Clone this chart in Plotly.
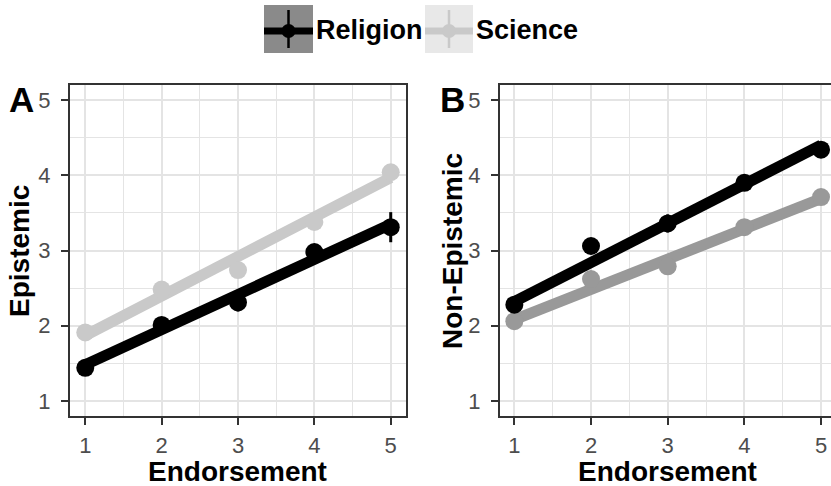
import plotly.graph_objects as go

endorse = [1, 2, 3, 4, 5]
a_religion = [1.44, 2.01, 2.31, 2.98, 3.31]
a_religion_err = [0.05, 0.08, 0.12, 0.08, 0.2]
a_science = [1.91, 2.48, 2.74, 3.38, 4.04]
a_science_err = [0.08, 0.1, 0.06, 0.05, 0.05]
b_religion = [2.28, 3.06, 3.36, 3.90, 4.34]
b_religion_err = [0.05, 0.1, 0.12, 0.06, 0.05]
b_science = [2.06, 2.62, 2.79, 3.31, 3.71]
b_science_err = [0.04, 0.05, 0.06, 0.05, 0.04]
# fitted regression lines (values at Endorsement = 1 and 5)
fit_x = [1, 5]
a_religion_fit = [1.48, 3.35]
a_science_fit = [1.87, 3.97]
b_religion_fit = [2.32, 4.40]
b_science_fit = [2.08, 3.69]
y_ticks = [1, 2, 3, 4, 5]

W, H = 831, 486
def px(x):
    return x / W
def py(y):
    return 1 - y / H

FONT = "Liberation Sans, Arial, sans-serif"
BLACK = "#000000"
LIGHT = "#c9c9c9"
MID = "#999999"

fig = go.Figure()

def add_series(y, err, fit, color, xa, ya):
    fig.add_trace(go.Scatter(x=fit_x, y=fit, mode="lines", line=dict(color=color, width=11),
                             xaxis=xa, yaxis=ya, showlegend=False, hoverinfo="skip"))
    fig.add_trace(go.Scatter(x=endorse, y=y, mode="markers",
                             marker=dict(color=color, size=18),
                             error_y=dict(type="data", array=err, color=color,
                                          thickness=3, width=0),
                             xaxis=xa, yaxis=ya, showlegend=False))

add_series(a_science, a_science_err, a_science_fit, LIGHT, "x", "y")
add_series(a_religion, a_religion_err, a_religion_fit, BLACK, "x", "y")
add_series(b_science, b_science_err, b_science_fit, MID, "x2", "y2")
add_series(b_religion, b_religion_err, b_religion_fit, BLACK, "x2", "y2")

grid = "#e4e4e4"
axis_common = dict(
    tickvals=y_ticks, ticks="outside", ticklen=7, tickwidth=2, tickcolor="#333333",
    showgrid=True, gridcolor=grid, gridwidth=2,
    minor=dict(dtick=0.5, showgrid=True, gridcolor=grid, gridwidth=1.3, ticks=""),
    showline=True, linecolor="#333333", linewidth=2,
    tickfont=dict(family=FONT, size=22, color="#4d4d4d"),
    zeroline=False, fixedrange=True,
)
xax = dict(axis_common, ticklabelstandoff=2)
yax = dict(axis_common, ticklabelstandoff=6)

ydom = [py(416), py(85)]
fig.update_layout(
    width=W, height=H, margin=dict(l=0, r=0, t=0, b=0),
    paper_bgcolor="white", plot_bgcolor="white", showlegend=False,
    xaxis=dict(domain=[px(70), px(406)], range=[0.8, 5.2], mirror=True, anchor="y", **xax),
    yaxis=dict(domain=ydom, range=[0.8, 5.2], mirror=True, anchor="x", **yax),
    xaxis2=dict(domain=[px(500), 1.0], range=[0.813, 5.13], mirror=True, anchor="y2", **xax),
    yaxis2=dict(domain=ydom, range=[0.8, 5.2], mirror=False, anchor="x2", **yax),
)

ann = []
def text(x, y, s, size, xanchor="center", angle=0):
    ann.append(dict(x=px(x), y=py(y), xref="paper", yref="paper", text=s, showarrow=False,
                    xanchor=xanchor, yanchor="middle", textangle=angle,
                    font=dict(family=FONT, size=size, color="black")))

text(238, 471, "<b>Endorsement</b>", 28)
text(667, 471, "<b>Endorsement</b>", 28)
text(19, 251, "<b>Epistemic</b>", 28, angle=-90)
text(452, 251, "<b>Non-Epistemic</b>", 28, angle=-90)
text(7, 100, "<b>A</b>", 35, xanchor="left")
text(438, 100, "<b>B</b>", 35, xanchor="left")
text(314, 30, "<b>Religion</b>", 27, xanchor="left")
text(474, 30, "<b>Science</b>", 27, xanchor="left")

shapes = []
def legend_key(x0, x1, fill, color):
    cx = (x0 + x1) / 2
    shapes.append(dict(type="rect", xref="paper", yref="paper", x0=px(x0), x1=px(x1),
                       y0=py(53), y1=py(5), fillcolor=fill, line=dict(width=0), layer="above"))
    shapes.append(dict(type="line", xref="paper", yref="paper", x0=px(x0), x1=px(x1),
                       y0=py(31), y1=py(31), line=dict(color=color, width=7), layer="above"))
    shapes.append(dict(type="line", xref="paper", yref="paper", x0=px(cx), x1=px(cx),
                       y0=py(48), y1=py(10), line=dict(color=color, width=2.5), layer="above"))
    shapes.append(dict(type="circle", xref="paper", yref="paper", x0=px(cx - 7), x1=px(cx + 7),
                       y0=py(38), y1=py(24), fillcolor=color, line=dict(width=0), layer="above"))

legend_key(264, 313, "#8a8a8a", BLACK)
legend_key(425, 473, "#e8e8e8", LIGHT)

fig.update_layout(annotations=ann, shapes=shapes)
fig.write_html("out.html", config={"displayModeBar": False},
               post_script="document.body.style.margin='0px';document.body.style.overflow='hidden';")
